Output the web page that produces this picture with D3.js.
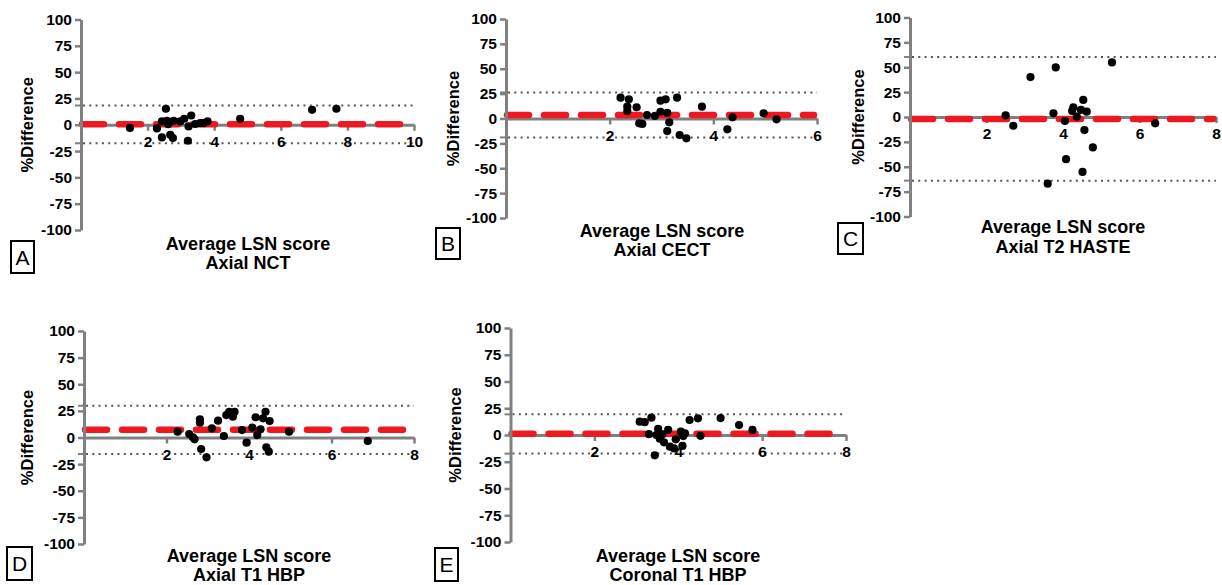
<!DOCTYPE html>
<html>
<head>
<meta charset="utf-8">
<script src="https://cdn.jsdelivr.net/npm/d3@7"></script>
<style>
  html, body { margin: 0; padding: 0; background: #fff; }
  svg { display: block; font-family: "Liberation Sans", Arial, sans-serif; }
  .tick text { font-weight: bold; font-size: 15.5px; fill: #000; }
</style>
</head>
<body>
<svg id="chart" width="1222" height="585"></svg>
<script>
// panel settings
const panelLetters = ['A', 'B', 'C', 'D', 'E']
const xTitle = 'Average LSN score'
const xSubtitles = ['Axial NCT', 'Axial CECT', 'Axial T2 HASTE', 'Axial T1 HBP', 'Coronal T1 HBP']
const yTitle = '%Difference'
const xMaxValues = [10, 6, 8, 8, 8]
const yTickValues = [100, 75, 50, 25, 0, -25, -50, -75, -100]
const biasValues = [0.4, 3.5, -2, 7.2, 1.2]
const upperLoa = [18.3, 26.2, 60.3, 29.8, 19.3]
const lowerLoa = [-17.6, -19, -64, -15.5, -17.4]

// points: average score / % difference
const avgA = [1.47, 2.28, 2.55, 2.43, 2.58, 2.62, 2.78, 2.98, 3.1, 3.31, 3.23, 2.43, 2.68, 2.76, 3.21, 3.43, 3.58, 3.68, 3.8, 4.78, 6.94, 7.67]
const diffA = [-3, -3.5, 15.2, 3.2, 3.8, 0.5, 3.8, 3.2, 5.7, 8.8, -1.6, -12, -9.5, -12.7, -15.2, 0.7, 1.6, 1.5, 3.2, 5.7, 14.2, 15.2]

const avgB = [2.21, 2.37, 2.34, 2.34, 2.52, 2.57, 2.63, 2.72, 2.87, 2.98, 3.08, 2.98, 3.11, 3.15, 3.11, 3.3, 3.35, 3.48, 3.78, 4.27, 4.37, 4.97, 5.22]
const diffB = [20.9, 19.3, 11.9, 7.5, 11.3, -4.8, -5.5, 3.5, 2.5, 17.9, 19.3, 6.8, 5.8, -3.8, -12.6, 20.9, -16.6, -19.9, 11.9, -10.9, 1.2, 5.2, -0.8]

const avgC = [2.5, 2.7, 3.15, 3.6, 3.75, 3.81, 4.05, 4.08, 4.24, 4.27, 4.36, 4.47, 4.53, 4.62, 4.56, 4.51, 4.78, 5.28, 6.41]
const diffC = [1.7, -8.8, 40.1, -67, 3.7, 49.8, -4, -42.4, 6.1, 9.8, 0.3, 7.1, 17.2, 5.4, -13.1, -55.2, -30.6, 54.8, -6.4]

const avgD = [2.27, 2.55, 2.64, 2.68, 2.81, 2.81, 2.84, 2.97, 3.1, 3.25, 3.39, 3.45, 3.52, 3.61, 3.65, 3.83, 3.94, 4.08, 4.16, 4.2, 4.28, 4.34, 4.4, 4.42, 4.48, 4.5, 4.97, 6.88]
const diffD = [5.5, 3.3, 0.2, -1.7, 17.1, 13.9, -10.8, -18.6, 8.6, 15.8, 1.4, 21.1, 24.2, 19.5, 24.2, 7, -4.9, 9.2, 19, 2.3, 7.7, 18, 24.2, -9.2, -13.3, 15.5, 5.5, -3.3]

const avgE = [3.08, 3.2, 3.36, 3.3, 3.44, 3.52, 3.48, 3.56, 3.62, 3.66, 3.76, 3.8, 3.9, 3.94, 4.06, 4.1, 4.12, 4.16, 4.27, 4.47, 4.53, 5.01, 5.45, 5.77]
const diffE = [12.5, 12, 16.2, 0.8, -19, 5.8, 0, -3.5, 0.6, -6.8, 4.8, -10.9, -12.5, -4, 3.1, -10.2, -1, 1.6, 14, 15.6, -0.8, 15.8, 9.3, 4.7]

const avgAll = [avgA, avgB, avgC, avgD, avgE]
const diffAll = [diffA, diffB, diffC, diffD, diffE]

// where each panel sits on the page
const layouts = [
    { x0: 81, x1: 414, yTop: 19.5, yBot: 230, titleX: 248, titleY: 243, yTitleX: 27, box: [11, 241, 23, 32] },
    { x0: 506, x1: 817, yTop: 19, yBot: 218, titleX: 662, titleY: 230, yTitleX: 453, box: [436, 228, 24, 31] },
    { x0: 910, x1: 1216, yTop: 17.5, yBot: 216.5, titleX: 1063, titleY: 226.5, yTitleX: 858, box: [838, 223, 25, 31] },
    { x0: 84, x1: 414, yTop: 331, yBot: 544, titleX: 249, titleY: 555, yTitleX: 27, box: [7, 547, 25, 33] },
    { x0: 510.5, x1: 846, yTop: 328, yBot: 542, titleX: 678, titleY: 555, yTitleX: 455, box: [435, 548, 23, 33] }
]

const axisGray = '#808080'
const red = '#ee1820'
const svg = d3.select('#chart')

layouts.forEach((L, i) => {
    const g = svg.append('g')
    const x = d3.scaleLinear().domain([0, xMaxValues[i]]).range([L.x0, L.x1])
    const y = d3.scaleLinear().domain([-100, 100]).range([L.yBot, L.yTop])

    // limits of agreement
    ;[upperLoa[i], lowerLoa[i]].forEach(v => {
        g.append('line')
            .attr('x1', x(0) + 2).attr('x2', x(xMaxValues[i]))
            .attr('y1', y(v)).attr('y2', y(v))
            .attr('stroke', '#555').attr('stroke-width', 2)
            .attr('stroke-dasharray', '2 4.3')
        g.append('line')
            .attr('x1', x(0) - 6).attr('x2', x(0))
            .attr('y1', y(v)).attr('y2', y(v))
            .attr('stroke', axisGray).attr('stroke-width', 2)
    })

    // x axis through zero
    const xTicks = d3.range(2, xMaxValues[i] + 1, 2)
    const xAxis = g.append('g')
        .attr('transform', `translate(0,${y(0)})`)
        .call(d3.axisBottom(x).tickValues(xTicks).tickSize(6).tickSizeOuter(0).tickPadding(5).tickFormat(d => String(d)))
    xAxis.select('.domain').attr('stroke', axisGray).attr('stroke-width', 3)
    xAxis.selectAll('.tick line').attr('stroke', axisGray).attr('stroke-width', 2.5)

    // bias
    g.append('line')
        .attr('x1', x(0) + 1).attr('x2', x(xMaxValues[i]) - 3)
        .attr('y1', y(biasValues[i])).attr('y2', y(biasValues[i]))
        .attr('stroke', red).attr('stroke-width', 6.5)
        .attr('stroke-linecap', 'round')
        .attr('stroke-dasharray', '22 15')

    // y axis
    const yAxis = g.append('g')
        .attr('transform', `translate(${x(0)},0)`)
        .call(d3.axisLeft(y).tickValues(yTickValues).tickSize(6).tickSizeOuter(0).tickFormat(d => String(d)))
    yAxis.select('.domain').attr('stroke', axisGray).attr('stroke-width', 3)
    yAxis.selectAll('.tick line').attr('stroke', axisGray).attr('stroke-width', 2.5)

    // points
    g.selectAll('circle')
        .data(avgAll[i])
        .enter()
        .append('circle')
        .attr('cx', d => x(d))
        .attr('cy', (d, j) => y(diffAll[i][j]))
        .attr('r', 4.1)
        .attr('fill', '#000')

    // titles
    const t = g.append('text')
        .attr('x', L.titleX).attr('y', L.titleY + 6.5)
        .attr('text-anchor', 'middle')
        .attr('font-weight', 'bold').attr('font-size', 18)
    t.append('tspan').attr('x', L.titleX).text(xTitle)
    t.append('tspan').attr('x', L.titleX).attr('dy', 19.5).text(xSubtitles[i])

    g.append('text')
        .attr('transform', `translate(${L.yTitleX},${y(0)}) rotate(-90)`)
        .attr('text-anchor', 'middle').attr('dy', '0.36em')
        .attr('font-weight', 'bold').attr('font-size', 16.5)
        .text(yTitle)

    // panel letter
    g.append('rect')
        .attr('x', L.box[0]).attr('y', L.box[1])
        .attr('width', L.box[2]).attr('height', L.box[3])
        .attr('fill', 'none').attr('stroke', '#000').attr('stroke-width', 2)
    g.append('text')
        .attr('x', L.box[0] + L.box[2] / 2).attr('y', L.box[1] + L.box[3] / 2)
        .attr('dy', '0.36em').attr('text-anchor', 'middle')
        .attr('font-size', 21)
        .text(panelLetters[i])
})
</script>
</body>
</html>
